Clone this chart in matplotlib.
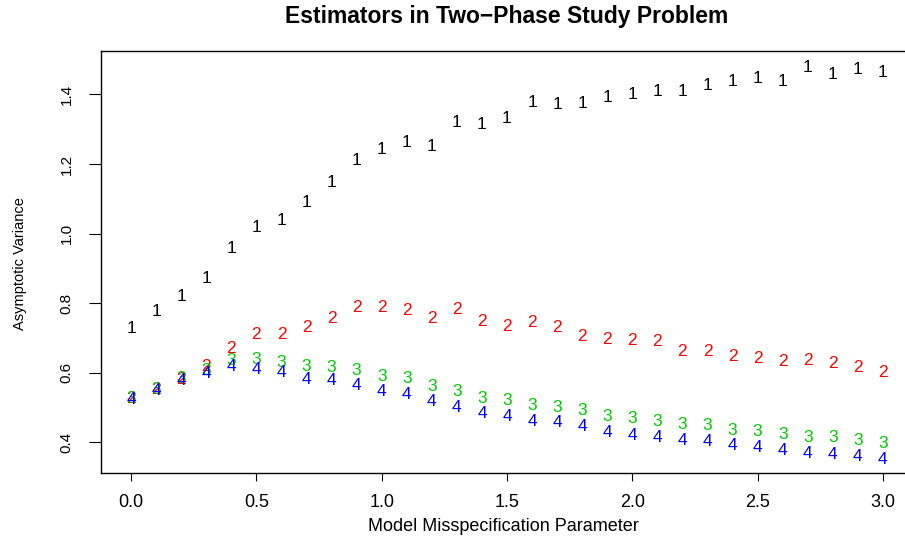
import numpy as np
import matplotlib
matplotlib.use('Agg')
import matplotlib.pyplot as plt

# misspecification parameter grid and asymptotic variances
x = [0.0, 0.1, 0.2, 0.3, 0.4, 0.5, 0.6, 0.7, 0.8, 0.9, 1.0,
     1.1, 1.2, 1.3, 1.4, 1.5, 1.6, 1.7, 1.8, 1.9, 2.0,
     2.1, 2.2, 2.3, 2.4, 2.5, 2.6, 2.7, 2.8, 2.9, 3.0]
est1 = [0.730, 0.779, 0.824, 0.876, 0.960, 1.021, 1.041, 1.093, 1.150, 1.215, 1.247,
        1.266, 1.254, 1.323, 1.317, 1.335, 1.381, 1.376, 1.379, 1.395, 1.404,
        1.414, 1.414, 1.430, 1.443, 1.449, 1.441, 1.481, 1.463, 1.475, 1.467]
est2 = [0.530, 0.555, 0.584, 0.623, 0.673, 0.713, 0.713, 0.733, 0.759, 0.791, 0.791,
        0.782, 0.760, 0.786, 0.750, 0.738, 0.747, 0.733, 0.707, 0.699, 0.696,
        0.693, 0.664, 0.664, 0.650, 0.645, 0.635, 0.638, 0.630, 0.619, 0.604]
est3 = [0.529, 0.555, 0.586, 0.611, 0.640, 0.641, 0.632, 0.623, 0.619, 0.609, 0.592,
        0.587, 0.563, 0.549, 0.530, 0.523, 0.508, 0.503, 0.494, 0.477, 0.472,
        0.462, 0.455, 0.451, 0.437, 0.436, 0.426, 0.416, 0.416, 0.410, 0.400]
est4 = [0.527, 0.554, 0.580, 0.601, 0.621, 0.614, 0.603, 0.585, 0.582, 0.568, 0.549,
        0.542, 0.520, 0.504, 0.485, 0.477, 0.462, 0.460, 0.448, 0.431, 0.424,
        0.416, 0.408, 0.405, 0.393, 0.388, 0.379, 0.371, 0.367, 0.362, 0.355]
labels = ['1', '2', '3', '4']
colors = ['black', '#FF0000', '#00CD00', '#0000FF']
xticks = [0.0, 0.5, 1.0, 1.5, 2.0, 2.5, 3.0]
yticks = [0.4, 0.6, 0.8, 1.0, 1.2, 1.4]

plt.rcParams['font.family'] = ['Liberation Sans', 'DejaVu Sans']

W, H = 905, 539
fig = plt.figure(figsize=(W / 100, H / 100), dpi=100)
ax = fig.add_axes([101 / W, 65.7 / H, 812 / W, 422.6 / H])

# R-style pch digits: each estimator drawn as its number
for ys, lab, c in zip([est1, est2, est3, est4], labels, colors):
    for xi, yi in zip(x, ys):
        ax.text(xi, yi, lab, color=c, fontsize=12.5, ha='center', va='center_baseline')

ax.set_xlim(-0.12, 3.12)
ax.set_ylim(0.310, 1.526)
ax.set_xticks(xticks)
ax.set_xticklabels(['%.1f' % t for t in xticks])
ax.set_yticks(yticks)
ax.set_yticklabels(['%.1f' % t for t in yticks], rotation=90, va='center')
ax.tick_params(axis='x', length=6.1, width=0.8, pad=8.5, labelsize=13)
ax.tick_params(axis='y', length=8.6, width=0.8, pad=11, labelsize=11)
for s in ax.spines.values():
    s.set_linewidth(1.0)

fig.text(507 / W, 1 - 22.7 / H, 'Estimators in Two\u2212Phase Study Problem',
         ha='center', va='baseline', fontsize=16.5, fontweight='bold')
fig.text(503 / W, 1 - 531 / H, 'Model Misspecification Parameter',
         ha='center', va='baseline', fontsize=13)
fig.text(27 / W, 1 - 264 / H, 'Asymptotic Variance', rotation=90,
         ha='right', va='center', fontsize=10.5)

fig.savefig('out.png', dpi=100)
